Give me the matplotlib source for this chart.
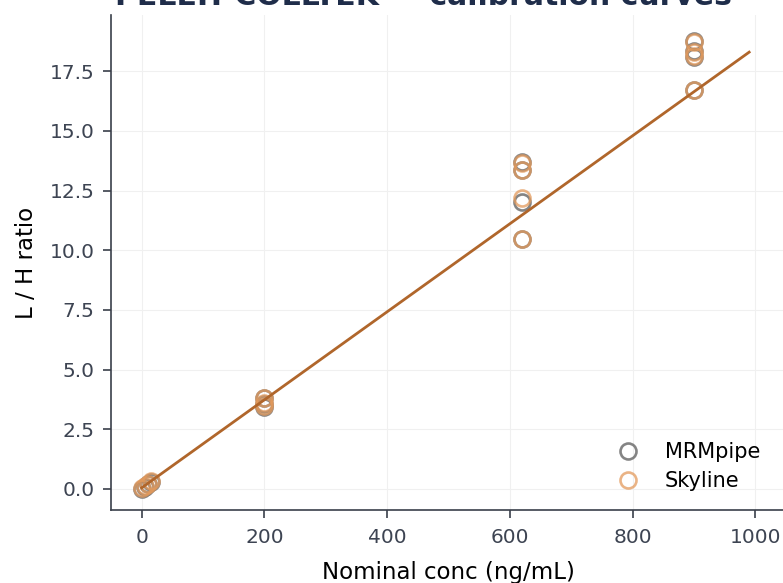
import numpy as np
import matplotlib.pyplot as plt

# calibration levels (ng/mL) and measured light/heavy ratios
conc = [0, 5, 10, 15, 200, 200, 200, 620, 620, 620, 620, 900, 900, 900, 900]
mrmpipe = [0.02, 0.1, 0.2, 0.3, 3.82, 3.56, 3.45, 13.69, 13.36, 12.04, 10.45, 18.76, 18.35, 18.1, 16.72]
skyline = [0.03, 0.11, 0.22, 0.32, 3.80, 3.60, 3.47, 13.65, 13.38, 12.2, 10.45, 18.72, 18.3, 18.12, 16.7]

# weighted linear fit used for the calibration line
fit_slope = 0.01843
fit_intercept = 0.05
fit_max = 990

fig = plt.figure(figsize=(7.83, 5.83), dpi=100)
ax = fig.add_axes([0.1418, 0.1252, 0.862, 0.849])

ax.plot(conc, mrmpipe, 'o', ls='none', ms=11.5, mfc='none', mec='#6e6e6e',
        mew=1.9, alpha=0.85, label='MRMpipe')
ax.plot(conc, skyline, 'o', ls='none', ms=11.5, mfc='none', mec='#e39a5c',
        mew=1.9, alpha=0.75, label='Skyline')

xs = np.array([0, fit_max])
ax.plot(xs, fit_intercept + fit_slope * xs, color='#b0662b', lw=2.0)

ax.set_xlim(-50, 1050)
ax.set_ylim(-0.88, 19.85)
ax.set_xticks([0, 200, 400, 600, 800, 1000])
ax.set_yticks(np.arange(0, 18, 2.5))
ax.grid(True, color='#f0f0f0', lw=0.8)
ax.set_axisbelow(True)

for s in ['top', 'right']:
    ax.spines[s].set_visible(False)
for s in ['left', 'bottom']:
    ax.spines[s].set_color('#3a3f4a')
    ax.spines[s].set_linewidth(1.2)
ax.tick_params(colors='#3a3f4a', labelsize=14.5, length=6, width=1.2, pad=7)
ax.tick_params(axis='y', pad=6)
for lab in ax.get_xticklabels() + ax.get_yticklabels():
    lab.set_color('#3d4452')

ax.set_xlabel('Nominal conc (ng/mL)', fontsize=16.5, labelpad=10)
ax.set_ylabel('L / H ratio', fontsize=16.5, labelpad=8)

ax.legend(loc='lower right', bbox_to_anchor=(0.99, 0.0), frameon=False,
          fontsize=15, handletextpad=0.8, labelspacing=0.45)

fig.text(0.541, 1.006, 'PELEH-COLLTEK \u2014 calibration curves', ha='center',
         va='center', fontsize=21.5, fontweight='bold', color='#1f2d4a')

fig.savefig('out.png', dpi=100)
